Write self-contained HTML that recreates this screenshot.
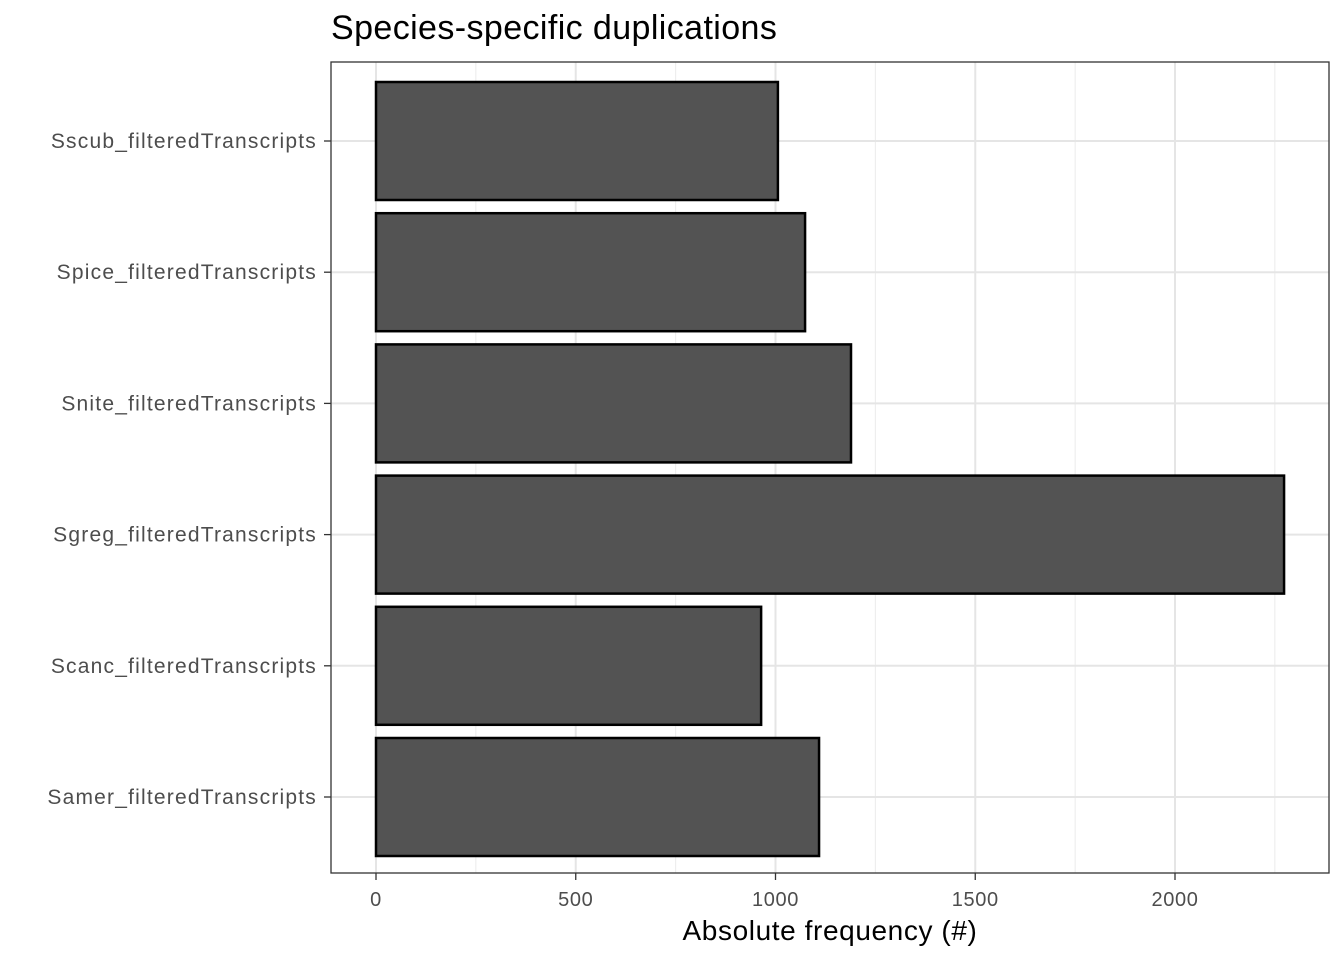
<!DOCTYPE html>
<html><head><meta charset="utf-8"><style>body{margin:0;background:#fff}svg{display:block;font-family:"Liberation Sans",Arial,sans-serif}</style></head>
<body>
<svg id="chart" width="1344" height="960" viewBox="0 0 1344 960" xmlns="http://www.w3.org/2000/svg">
<text x="331" y="39" font-size="34" letter-spacing="0.4" fill="#000">Species-specific duplications</text>
<g id="grid"></g><g id="bars"></g><g id="axes"></g>
<rect x="331" y="62" width="998" height="811" fill="none" stroke="#333" stroke-width="1.3"/>
<text x="830" y="940" font-size="28" letter-spacing="0.6" text-anchor="middle" fill="#000">Absolute frequency (#)</text>
</svg>
<script>
const categories = ["Samer_filteredTranscripts","Scanc_filteredTranscripts","Sgreg_filteredTranscripts","Snite_filteredTranscripts","Spice_filteredTranscripts","Sscub_filteredTranscripts"];
const values = [1109, 964, 2273, 1189, 1074, 1006];
const xTicks = [0, 500, 1000, 1500, 2000];
const xMinor = [250, 750, 1250, 1750, 2250];
const NS = "http://www.w3.org/2000/svg";
const X0 = 376, PX = 0.3995;
const x = v => X0 + v * PX;
const step = 131.2;
const y = i => 797 - i * step;
function mk(tag, attrs, parent, text) {
  const e = document.createElementNS(NS, tag);
  for (const k in attrs) e.setAttribute(k, attrs[k]);
  if (text !== undefined) e.textContent = text;
  document.getElementById(parent).appendChild(e);
  return e;
}
xMinor.forEach(v => {
  const l = mk("line", {x1: x(v), x2: x(v), y1: 62, y2: 873, stroke: "#ebebeb", "stroke-width": 1}, "grid");
  
  
});
xTicks.forEach(v => {
  const l = mk("line", {x1: x(v), x2: x(v), y1: 62, y2: 873, stroke: "#e5e5e5", "stroke-width": 2}, "grid");
  
  
  const t = mk("line", {x1: x(v), x2: x(v), y1: 873, y2: 880, stroke: "#333", "stroke-width": 1.3}, "axes");
  
  
  const tx = mk("text", {x: x(v), y: 906, "font-size": 20, "letter-spacing": 0.6, "text-anchor": "middle", fill: "#4d4d4d"}, "axes", String(v));
  
  
});
categories.forEach((c, i) => {
  const g = mk("line", {x1: 331, x2: 1329, y1: y(i), y2: y(i), stroke: "#e5e5e5", "stroke-width": 2}, "grid");
  
  
  const h = 118;
  const b = mk("rect", {x: x(0), y: y(i) - h / 2, width: x(values[i]) - x(0), height: h, fill: "#535353", stroke: "#000", "stroke-width": 2.5}, "bars");
  
  
  const t = mk("line", {x1: 324, x2: 331, y1: y(i), y2: y(i), stroke: "#333", "stroke-width": 1.3}, "axes");
  
  
  const tx = mk("text", {x: 317, y: y(i) + 7, "font-size": 21, "letter-spacing": 1.2, "text-anchor": "end", fill: "#4d4d4d"}, "axes", c);
  
  
});
</script>
</body></html>
